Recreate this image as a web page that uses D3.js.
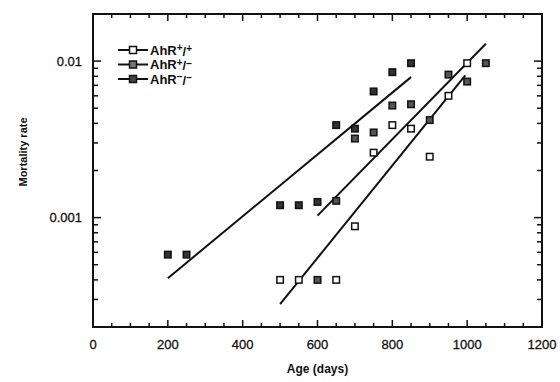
<!DOCTYPE html>
<html>
<head>
<meta charset="utf-8">
<script src="https://cdn.jsdelivr.net/npm/d3@7"></script>
<style>
  body { margin: 0; background: #fff; }
  text { font-family: "Liberation Sans", Arial, sans-serif; fill: #111; }
</style>
</head>
<body>
<div id="chart"></div>
<script>
// measured values (age in days, mortality rate)
var ageWT  = [500, 550, 650, 700, 750, 800, 850, 900, 950, 1000];
var rateWT = [0.0004, 0.0004, 0.0004, 0.00088, 0.0026, 0.0039, 0.0037, 0.00245, 0.006, 0.0097];

var ageHet  = [600, 650, 700, 750, 800, 850, 900, 950, 1000, 1050];
var rateHet = [0.0004, 0.00128, 0.0032, 0.0035, 0.0052, 0.0053, 0.0042, 0.0082, 0.0074, 0.0097];

var ageKO  = [200, 250, 500, 550, 600, 650, 700, 750, 800, 850];
var rateKO = [0.00058, 0.00058, 0.0012, 0.0012, 0.00126, 0.0039, 0.0037, 0.0064, 0.0085, 0.0097];

// fitted lines, end points
var fitAgeWT  = [500, 995],  fitRateWT  = [0.00028, 0.0081];
var fitAgeHet = [600, 1050], fitRateHet = [0.00103, 0.0129];
var fitAgeKO  = [200, 850],  fitRateKO  = [0.00041, 0.0079];

var xTicks = [0, 200, 400, 600, 800, 1000, 1200];
var yTicks = [0.001, 0.01];
var yTickLabels = ["0.001", "0.01"];

var width = 560, height = 382,
  margins = {top: 14, left: 93, right: 18, bottom: 55};

var svg = d3.select("#chart").append("svg")
  .attr("width", width)
  .attr("height", height);

var x = d3.scaleLinear().domain([0, 1200])
  .range([margins.left, width - margins.right]);
var y = d3.scaleLog().domain([0.0002, 0.02])
  .range([height - margins.bottom, margins.top]);

var x0 = x.range()[0], x1 = x.range()[1],
  yb = y.range()[0], yt = y.range()[1];

// minor ticks
var xMinor = d3.range(0, 1201, 50).filter(function (d) { return d % 200 !== 0; });
var yMinor = [];
[0.0001, 0.001, 0.01].forEach(function (dec) {
  for (var k = 2; k <= 9; k++) {
    var v = dec * k;
    if (v >= 0.0002 && v <= 0.02) yMinor.push(v);
  }
});

function tickLines(g, vals, len) {
  g.selectAll(null).data(vals).enter().append("line")
    .attr("x1", function (d) { return x(d); }).attr("x2", function (d) { return x(d); })
    .attr("y1", yb).attr("y2", yb - len);
  g.selectAll(null).data(vals).enter().append("line")
    .attr("x1", function (d) { return x(d); }).attr("x2", function (d) { return x(d); })
    .attr("y1", yt).attr("y2", yt + len);
}
function yTickLines(g, vals, len) {
  g.selectAll(null).data(vals).enter().append("line")
    .attr("y1", function (d) { return y(d); }).attr("y2", function (d) { return y(d); })
    .attr("x1", x0).attr("x2", x0 + len);
  g.selectAll(null).data(vals).enter().append("line")
    .attr("y1", function (d) { return y(d); }).attr("y2", function (d) { return y(d); })
    .attr("x1", x1).attr("x2", x1 - len);
}

var ticksG = svg.append("g").attr("stroke", "#111").attr("stroke-width", 1.5);
tickLines(ticksG, xTicks, 7);
tickLines(ticksG, xMinor, 4);
yTickLines(ticksG, yTicks, 8);
yTickLines(ticksG, yMinor, 5);

svg.append("rect")
  .attr("x", x0).attr("y", yt)
  .attr("width", x1 - x0).attr("height", yb - yt)
  .attr("fill", "none").attr("stroke", "#111").attr("stroke-width", 2);

// tick labels
svg.selectAll("text.xlab").data(xTicks).enter().append("text")
  .attr("class", "xlab")
  .attr("x", function (d) { return x(d); })
  .attr("y", yb + 22)
  .attr("text-anchor", "middle")
  .style("font-size", "13px")
  .style("stroke", "#111").style("stroke-width", 0.3)
  .text(function (d) { return d; });

svg.selectAll("text.ylab").data(yTicks).enter().append("text")
  .attr("class", "ylab")
  .attr("x", x0 - 11)
  .attr("y", function (d) { return y(d); })
  .attr("dy", ".35em")
  .attr("text-anchor", "end")
  .style("font-size", "13px")
  .style("stroke", "#111").style("stroke-width", 0.3)
  .text(function (d, i) { return yTickLabels[i]; });

svg.append("text")
  .attr("x", (x0 + x1) / 2).attr("y", 373)
  .attr("text-anchor", "middle")
  .style("font-size", "12px").style("font-weight", "bold")
  .text("Age (days)");

svg.append("text")
  .attr("transform", "translate(27,152) rotate(-90)")
  .attr("text-anchor", "middle")
  .style("font-size", "11px").style("font-weight", "bold")
  .text("Mortality rate");

// fit lines
var line = d3.line()
  .x(function (d) { return x(d[0]); })
  .y(function (d) { return y(d[1]); });

[[fitAgeWT, fitRateWT], [fitAgeHet, fitRateHet], [fitAgeKO, fitRateKO]].forEach(function (f) {
  svg.append("path")
    .datum(d3.zip(f[0], f[1]))
    .attr("d", line)
    .attr("fill", "none").attr("stroke", "#111").attr("stroke-width", 2);
});

// points
var series = [
  {name: "WT", ages: ageWT, rates: rateWT, fill: "#fff"},
  {name: "Het", ages: ageHet, rates: rateHet, fill: "#555"},
  {name: "KO", ages: ageKO, rates: rateKO, fill: "#333"}
];
var sz = 6.5;
series.forEach(function (s) {
  svg.append("g").selectAll("rect").data(d3.zip(s.ages, s.rates)).enter().append("rect")
    .attr("x", function (d) { return x(d[0]) - sz / 2; })
    .attr("y", function (d) { return y(d[1]) - sz / 2; })
    .attr("width", sz).attr("height", sz)
    .attr("fill", s.fill).attr("stroke", "#111").attr("stroke-width", 1.5);
});

// legend
var legendRows = [
  {sup1: "+", sup2: "+", fill: "#fff"},
  {sup1: "+", sup2: "\u2212", fill: "#777"},
  {sup1: "\u2212", sup2: "\u2212", fill: "#444"}
];
var lg = svg.append("g");
legendRows.forEach(function (r, i) {
  var ly = 50 + i * 14.5;
  lg.append("line").attr("x1", 118).attr("x2", 148).attr("y1", ly).attr("y2", ly)
    .attr("stroke", "#111").attr("stroke-width", 2);
  lg.append("rect").attr("x", 133 - 3.5).attr("y", ly - 3.5)
    .attr("width", 7).attr("height", 7)
    .attr("fill", r.fill).attr("stroke", "#111").attr("stroke-width", 1.5);
  var t = lg.append("text").attr("x", 150).attr("y", ly).attr("dy", ".35em")
    .style("font-size", "13px").style("font-weight", "bold");
  t.append("tspan").text("AhR");
  t.append("tspan").attr("dy", "-0.35em").style("font-size", "10px").text(r.sup1);
  t.append("tspan").attr("dy", "0.35em").text("/");
  t.append("tspan").attr("dy", "-0.35em").style("font-size", "10px").text(r.sup2);
});
</script>
</body>
</html>
